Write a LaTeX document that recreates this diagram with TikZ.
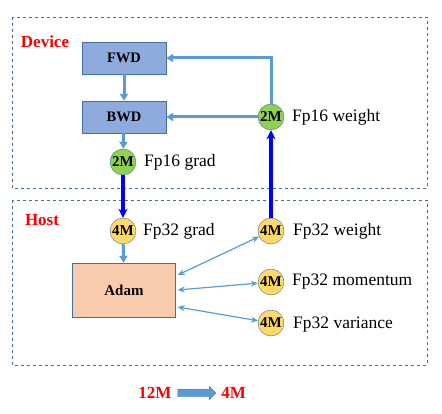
\documentclass[tikz,border=0pt]{standalone}
\usepackage{fontspec}
\setmainfont{Liberation Serif}
\usepackage{tikz}
\usetikzlibrary{shapes, arrows.meta, positioning}

\definecolor{edgeblue}{RGB}{65,113,156}
\definecolor{boxblue}{RGB}{143,170,220}
\definecolor{linkblue}{RGB}{91,155,213}
\definecolor{halfgreen}{RGB}{146,208,80}
\definecolor{fullyellow}{RGB}{255,217,102}
\definecolor{adamfill}{RGB}{248,203,173}

\begin{document}
\begin{tikzpicture}[x=1pt, y=-1pt,
        stage/.style={draw=edgeblue, fill=boxblue, minimum width=84pt, minimum height=32pt, font=\fontsize{14.5}{16}\selectfont\bfseries},
        mem/.style={draw=edgeblue, circle, inner sep=0pt, minimum size=26pt, font=\fontsize{15}{16}\selectfont\bfseries},
        tag/.style={anchor=west, inner sep=0pt, font=\fontsize{17.5}{19}\selectfont},
        region/.style={draw=edgeblue, dashed, thin},
        title/.style={text=red, inner sep=0pt, font=\fontsize{17}{19}\selectfont\bfseries},
        flow/.style={draw=linkblue, line width=3pt, -{Triangle[length=7pt, width=8pt]}},
        swap/.style={draw=linkblue, line width=1.2pt, {Stealth[length=7pt, width=6pt]}-{Stealth[length=7pt, width=6pt]}},
        copy/.style={draw=blue, line width=3.2pt, -{Stealth[length=9pt, width=9pt]}}]
        \useasboundingbox (0, 0) rectangle (442, 414);

        % device side
        \draw [region] (12, 17) rectangle (427, 188);
        \node [title] (device) at (45, 42) {Device};
        \node [stage] (fwd) at (124, 58) {FWD};
        \node [stage] (bwd) at (124, 117) {BWD};
        \node [mem, fill=halfgreen] (g16) at (123, 162) {2M};
        \node [tag] (g16t) at (144, 162) {Fp16 grad};
        \node [mem, fill=halfgreen] (w16) at (271, 117) {2M};
        \node [tag] (w16t) at (292, 117) {Fp16 weight};

        \draw [flow] (fwd) -- (bwd);
        \draw [flow] (bwd) -- (g16);
        \draw [flow] (w16) -- (bwd);
        \draw [flow] (w16.north) |- (fwd.east);

        % host side
        \draw [region] (12, 200) rectangle (427, 365);
        \node [title] (host) at (42, 220) {Host};
        \node [mem, fill=fullyellow] (g32) at (123, 231) {4M};
        \node [tag] (g32t) at (143, 231) {Fp32 grad};
        \node [mem, fill=fullyellow] (w32) at (271, 231) {4M};
        \node [tag] (w32t) at (293, 231) {Fp32 weight};
        \node [mem, fill=fullyellow] (m32) at (271, 282) {4M};
        \node [tag] (m32t) at (292, 282) {Fp32 momentum};
        \node [mem, fill=fullyellow] (v32) at (271, 323) {4M};
        \node [tag] (v32t) at (293, 325) {Fp32 variance};
        \node [draw=edgeblue, fill=adamfill, minimum width=103pt, minimum height=54pt, font=\fontsize{15}{16}\selectfont\bfseries] (adam) at (124, 290) {Adam};

        \draw [flow] (g32) -- (adam);
        \draw [swap] ([xshift=2pt, yshift=15pt]adam.east) -- (w32);
        \draw [swap] ([xshift=2pt]adam.east) -- (m32);
        \draw [swap] ([xshift=2pt, yshift=-17pt]adam.east) -- (v32);

        % transfers between host and device
        \draw [copy] (g16) -- (g32);
        \draw [copy] (w32) -- (w16);

        % saving
        \node [title] (before) at (155, 393) {12M};
        \node [single arrow, draw=edgeblue, fill=linkblue, minimum height=38pt, inner xsep=0pt, inner ysep=3.5pt, single arrow head extend=3pt, right=6pt of before] (shrink) {};
        \node [title, right=5pt of shrink] (after) {4M};
\end{tikzpicture}
\end{document}
